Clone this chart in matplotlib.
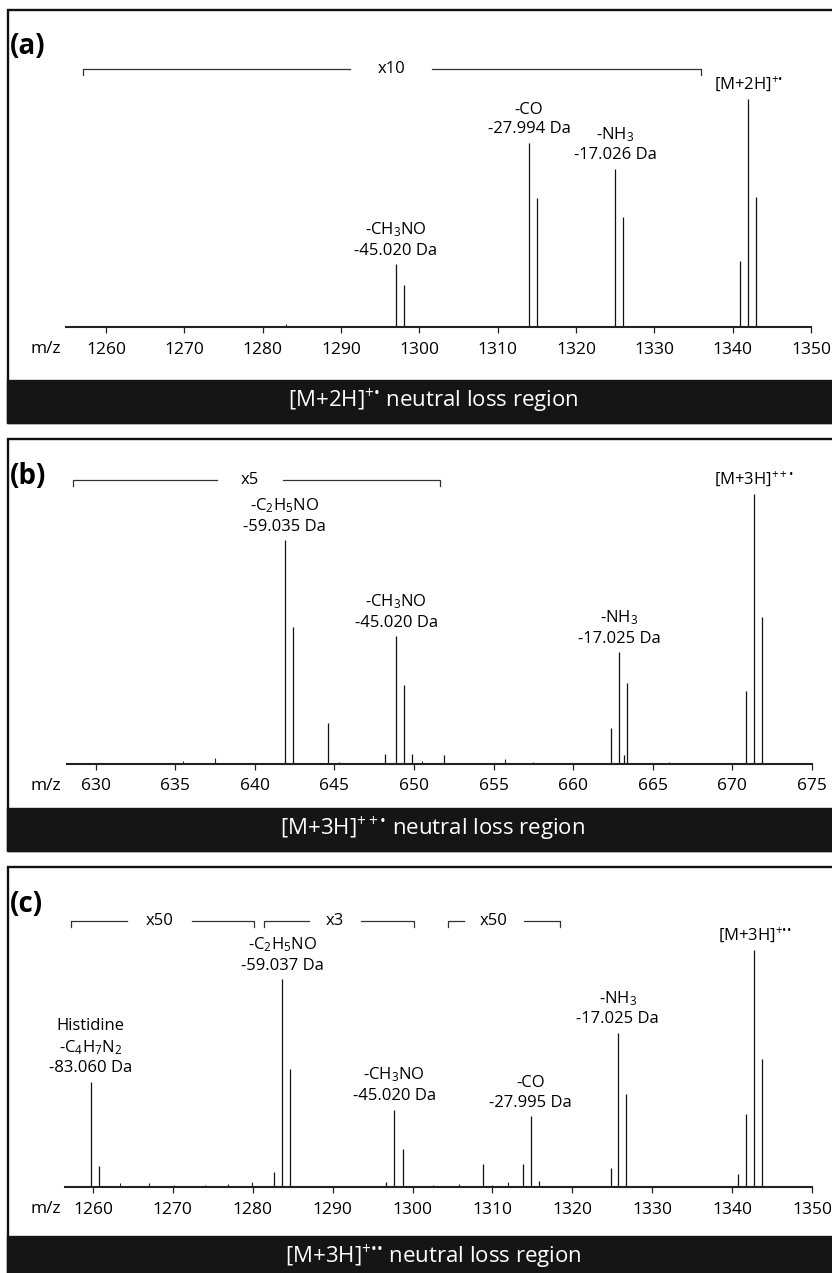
import matplotlib
matplotlib.use("Agg")
import matplotlib.pyplot as plt
from matplotlib.patches import Rectangle
from matplotlib.transforms import blended_transform_factory

plt.rcParams['font.family'] = ['Open Sans', 'DejaVu Sans']
plt.rcParams['mathtext.fontset'] = 'custom'
plt.rcParams['mathtext.rm'] = 'Open Sans'
plt.rcParams['mathtext.it'] = 'Open Sans:italic'
plt.rcParams['mathtext.bf'] = 'Open Sans:bold'

# ---- panel (a): [M+2H]+. neutral loss region ----
mz_a = [1297.0, 1298.0, 1314.0, 1315.0, 1325.0, 1326.0, 1341.0, 1342.0, 1343.0]
int_a = [27.6, 18.4, 80.7, 56.6, 69.3, 48.2, 28.9, 100.0, 57.0]
minor_mz_a = [1266.5, 1272.2, 1283.0, 1288.4, 1305.7, 1319.5, 1331.0, 1345.8]
minor_int_a = [0.6, 0.5, 1.4, 0.6, 0.5, 0.6, 0.5, 0.5]
ticks_a = [1260, 1270, 1280, 1290, 1300, 1310, 1320, 1330, 1340, 1350]
label_peaks_a = [0, 2, 4, 7]
labels_a = ["-CH$_3$NO\n-45.020 Da", "-CO\n-27.994 Da", "-NH$_3$\n-17.026 Da",
            "[M+2H]$^{+•}$"]
scales_a = [("x10", 1257.1, 1335.9, 1291.2, 1301.6)]
title_a = "[M+2H]$^{+•}$ neutral loss region"

# ---- panel (b): [M+3H]++. neutral loss region ----
mz_b = [641.87, 642.37, 644.6, 648.2, 648.88, 649.38, 649.9, 651.9,
        662.37, 662.88, 663.2, 663.38, 670.88, 671.38, 671.88]
int_b = [82.9, 50.8, 14.9, 3.7, 47.2, 29.0, 3.7, 3.3,
         13.0, 41.2, 3.0, 30.0, 27.0, 100.0, 54.5]
minor_mz_b = [635.5, 637.5, 645.3, 650.5, 655.7, 657.5, 666.0]
minor_int_b = [0.8, 2.2, 0.5, 1.0, 1.5, 0.7, 0.4]
ticks_b = [630, 635, 640, 645, 650, 655, 660, 665, 670, 675]
label_peaks_b = [0, 4, 9, 13]
labels_b = ["-C$_2$H$_5$NO\n-59.035 Da", "-CH$_3$NO\n-45.020 Da",
            "-NH$_3$\n-17.025 Da", "[M+3H]$^{++•}$"]
scales_b = [("x5", 628.6, 651.6, 637.6, 641.8)]
title_b = "[M+3H]$^{++•}$ neutral loss region"

# ---- panel (c): [M+3H]+.. neutral loss region ----
mz_c = [1259.7, 1260.8, 1282.7, 1283.7, 1284.7, 1296.7, 1297.7, 1298.8, 1308.8,
        1313.8, 1314.8, 1315.8, 1324.8, 1325.7, 1326.7,
        1340.8, 1341.8, 1342.8, 1343.8]
int_c = [44.4, 8.7, 6.3, 87.6, 49.6, 2.1, 32.7, 16.2, 9.6,
         9.6, 29.9, 2.5, 8.2, 65.1, 39.2,
         5.4, 31.0, 100.0, 54.2]
minor_mz_c = [1263.4, 1267.0, 1270.2, 1274.0, 1276.9, 1279.9, 1288.0,
              1302.5, 1305.8, 1310.0, 1311.9, 1332.0, 1345.5]
minor_int_c = [1.7, 1.5, 0.9, 1.0, 1.1, 2.1, 0.6, 0.8, 1.2, 1.0, 1.9, 0.5, 0.6]
ticks_c = [1260, 1270, 1280, 1290, 1300, 1310, 1320, 1330, 1340, 1350]
label_peaks_c = [0, 3, 6, 10, 13, 17]
labels_c = ["Histidine\n-C$_4$H$_7$N$_2$\n-83.060 Da", "-C$_2$H$_5$NO\n-59.037 Da",
            "-CH$_3$NO\n-45.020 Da", "-CO\n-27.995 Da", "-NH$_3$\n-17.025 Da",
            "[M+3H]$^{+••}$"]
scales_c = [("x50", 1257.2, 1280.1, 1264.2, 1272.4),
            ("x3", 1281.4, 1300.2, 1287.0, 1293.6),
            ("x50", 1304.5, 1318.4, 1306.4, 1313.9)]
title_c = "[M+3H]$^{+••}$ neutral loss region"

W, H = 832, 1273
fig = plt.figure(figsize=(W / 100, H / 100), dpi=100)


def fx(px):
    return px / W


def fy(py):
    return 1 - py / H


# layout in pixels: frame top, baseline, top of tallest peak, caption bar,
# axis left/right, bracket row
layouts = [
    dict(tag="(a)", frame=10, base=327, peak=99, bar=(381, 423), lr=(66, 811), xlim=(1254.9, 1350), brk=69),
    dict(tag="(b)", frame=439, base=763.5, peak=494, bar=(809, 851), lr=(67, 812), xlim=(628.2, 675), brk=480),
    dict(tag="(c)", frame=867, base=1187, peak=950, bar=(1237, 1290), lr=(65, 812), xlim=(1256.5, 1350), brk=921),
]
panels = [
    (mz_a, int_a, minor_mz_a, minor_int_a, ticks_a, label_peaks_a, labels_a, scales_a, title_a),
    (mz_b, int_b, minor_mz_b, minor_int_b, ticks_b, label_peaks_b, labels_b, scales_b, title_b),
    (mz_c, int_c, minor_mz_c, minor_int_c, ticks_c, label_peaks_c, labels_c, scales_c, title_c),
]

for lay, (mz, inten, mmz, mint, ticks, lpk, labs, scales, title) in zip(layouts, panels):
    # frame and black caption bar
    fig.patches.append(Rectangle((fx(8), fy(lay["bar"][1])), fx(840) - fx(8),
                                 fy(lay["frame"]) - fy(lay["bar"][1]),
                                 transform=fig.transFigure, fill=False, ec="#111111", lw=1.7))
    fig.patches.append(Rectangle((fx(8), fy(lay["bar"][1])), fx(840) - fx(8),
                                 fy(lay["bar"][0]) - fy(lay["bar"][1]),
                                 transform=fig.transFigure, fc="#151515", ec="#151515", lw=1.7))
    fig.text(fx(433), fy(lay["bar"][0] + 20), title, color="white", fontsize=16,
             ha="center", va="center")
    fig.text(fx(10), fy(lay["frame"] + 37), lay["tag"], fontsize=20, fontweight="bold",
             ha="left", va="center")

    l, r = lay["lr"]
    ax = fig.add_axes([fx(l), fy(lay["base"]), fx(r) - fx(l), fy(lay["peak"]) - fy(lay["base"])])
    ax.set_xlim(*lay["xlim"])
    ax.set_ylim(0, 100)
    ax.patch.set_alpha(0)
    for s in ["top", "left", "right"]:
        ax.spines[s].set_visible(False)
    ax.spines["bottom"].set_linewidth(1.5)
    ax.spines["bottom"].set_color("#222222")
    ax.set_yticks([])
    ax.set_xticks(ticks)
    ax.tick_params(axis="x", direction="out", length=4.5, width=0.9, pad=6,
                   labelsize=12.5, color="#222222")

    ax.vlines(mmz, 0, mint, color="#222222", lw=0.8, clip_on=False)
    ax.vlines(mz, 0, inten, color="#111111", lw=0.9, clip_on=False)

    for i, txt in zip(lpk, labs):
        ax.annotate(txt, xy=(mz[i], inten[i]), xytext=(0, 4), textcoords="offset points",
                    ha="center", va="bottom", fontsize=12, linespacing=1.3,
                    annotation_clip=False)

    # magnification brackets
    tr = blended_transform_factory(ax.transData, fig.transFigure)
    yb = fy(lay["brk"])
    hook = 6 / H
    for txt, x0, x1, g0, g1 in scales:
        ax.plot([x0, x0, g0], [yb - hook, yb, yb], color="#333333", lw=0.9,
                transform=tr, clip_on=False)
        ax.plot([g1, x1, x1], [yb, yb, yb - hook], color="#333333", lw=0.9,
                transform=tr, clip_on=False)
        ax.text((g0 + g1) / 2, yb, txt, transform=tr, ha="center", va="center", fontsize=12)

    fig.text(fx(46), fy(lay["base"] + 22), "m/z", fontsize=12.5, ha="center", va="center")

fig.savefig("out.png", dpi=100)
